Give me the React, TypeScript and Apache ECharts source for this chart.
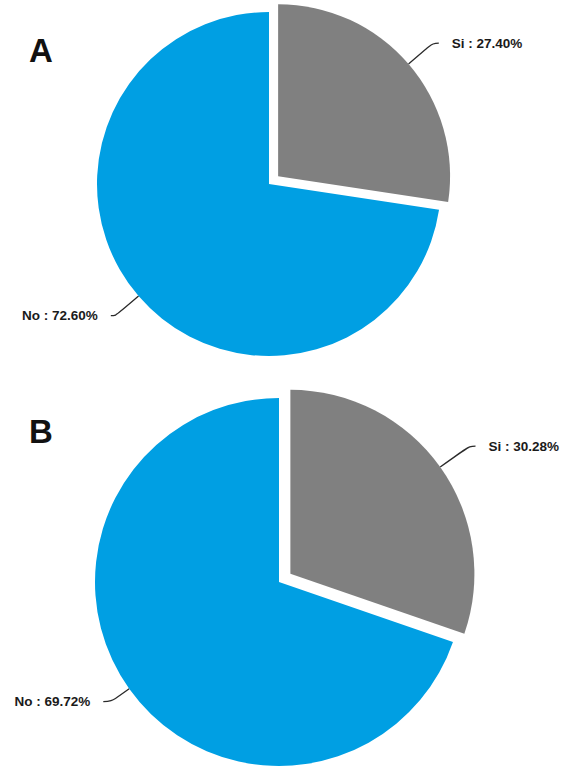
import React, { useEffect, useRef } from "react";
import * as echarts from "echarts";

const categories = ["Si", "No"];
const valuesA = [27.4, 72.6];
const valuesB = [30.28, 69.72];
const panelLabels = ["A", "B"];
const sliceColors = ["#808080", "#009FE3"];

const fmt = (p: any) => `${p.name} : ${Number(p.value).toFixed(2)}%`;

function buildData(values: number[], lines: number[][]) {
  return categories.map((name, i) => ({
    name,
    value: values[i],
    selected: i === 0,
    itemStyle: { color: sliceColors[i] },
    labelLine: { length: lines[i][0], length2: lines[i][1] },
  }));
}

export default function App() {
  const ref = useRef<HTMLDivElement>(null);
  useEffect(() => {
    if (!ref.current) return;
    const chart = echarts.init(ref.current, undefined, { renderer: "svg" });
    const commonSeries = {
      type: "pie",
      clockwise: true,
      startAngle: 90,
      selectedMode: "single",
      avoidLabelOverlap: false,
      emphasis: { disabled: true },
      label: {
        show: true,
        position: "outside",
        formatter: fmt,
        color: "#1a1a1a",
        fontSize: 13.5,
        fontWeight: "bold",
        fontFamily: "Arial, 'Liberation Sans', sans-serif",
        distanceToLabelLine: 13,
      },
      labelLine: {
        show: true,
        smooth: 0.4,
        lineStyle: { color: "#2a2a2a", width: 1.3 },
      },
    };
    chart.setOption({
      animation: false,
      backgroundColor: "#ffffff",
      graphic: [
        {
          type: "text",
          x: 29,
          y: 50,
          style: {
            text: panelLabels[0],
            fill: "#111",
            font: "bold 33px Arial, 'Liberation Sans', sans-serif",
            verticalAlign: "middle",
            textVerticalAlign: "middle",
          },
        },
        {
          type: "text",
          x: 29,
          y: 431,
          style: {
            text: panelLabels[1],
            fill: "#111",
            font: "bold 33px Arial, 'Liberation Sans', sans-serif",
            verticalAlign: "middle",
            textVerticalAlign: "middle",
          },
        },
      ],
      series: [
        {
          ...commonSeries,
          name: "A",
          center: [269, 184],
          radius: 172,
          selectedOffset: 12,
          data: buildData(valuesA, [
            [32, 6],
            [30, 5],
          ]),
        },
        {
          ...commonSeries,
          name: "B",
          center: [279, 582],
          radius: 184,
          selectedOffset: 14,
          data: buildData(valuesB, [
            [36, 6],
            [22, 8],
          ]),
        },
      ],
    });
    return () => chart.dispose();
  }, []);
  return (
    <div
      ref={ref}
      style={{ position: "fixed", left: 0, top: 0, width: 565, height: 767 }}
    />
  );
}
